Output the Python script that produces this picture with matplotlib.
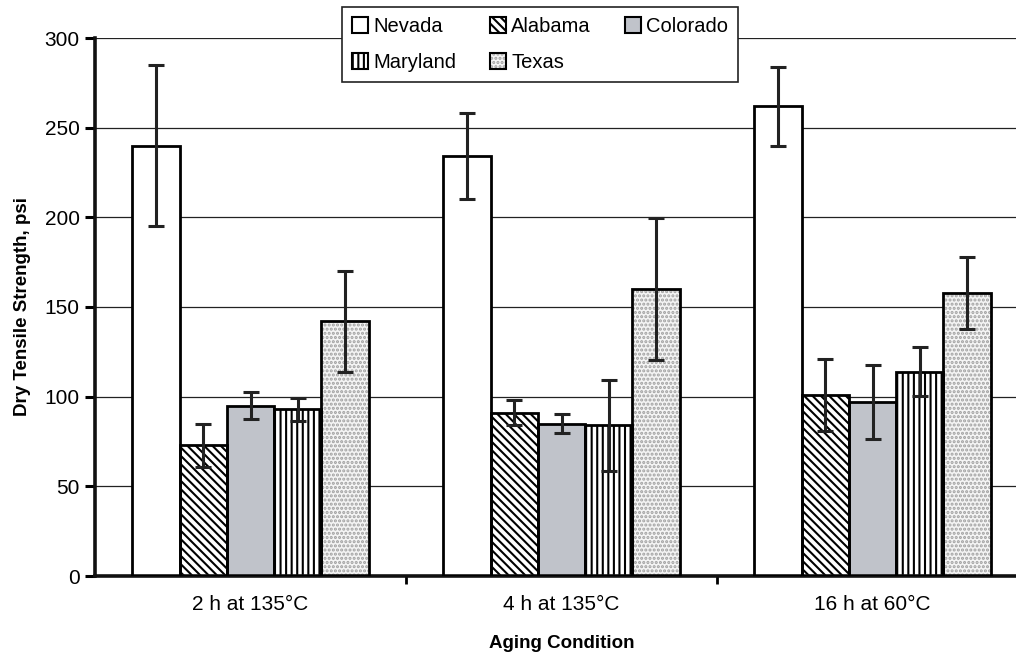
import numpy as np
import matplotlib
matplotlib.use("Agg")
from matplotlib import pyplot as plt
from matplotlib.patches import Patch
from matplotlib.legend_handler import HandlerTuple

plt.rcParams['font.family'] = ['Liberation Sans', 'DejaVu Sans']
plt.rcParams['hatch.linewidth'] = 1.5

conditions = ['2 h at 135°C', '4 h at 135°C', '16 h at 60°C']
states = ['Nevada', 'Alabama', 'Colorado', 'Maryland', 'Texas']

nevada = [240, 234, 262]
alabama = [73, 91, 101]
colorado = [95, 85, 97]
maryland = [93, 84, 114]
texas = [142, 160, 158]

nevada_err = [45, 24, 22]
alabama_err = [12, 7, 20]
colorado_err = [7.5, 5.5, 20.5]
maryland_err = [6.5, 25.5, 13.5]
texas_err = [28, 39.5, 20]

values = [nevada, alabama, colorado, maryland, texas]
errors = [nevada_err, alabama_err, colorado_err, maryland_err, texas_err]

# fill style per state: (face, hatch, hatch colour)
styles = [
    ('white', None, 'black'),
    ('white', '\\' * 4, 'black'),
    ('#c0c3ca', None, 'black'),
    ('white', '|||', 'black'),
    ('#f4f4f4', '....', '#a0a0a0'),
]

fig = plt.figure(figsize=(10.16, 6.57), dpi=100)
ax = fig.add_axes([95 / 1016, 1 - 576 / 657, 933 / 1016, 538 / 657])

x = np.arange(len(conditions))
w = 0.152
handles = []
for i, (vals, errs, (fc, hatch, hc)) in enumerate(zip(values, errors, styles)):
    pos = x + (i - 2) * w
    # fill + hatch layer
    ax.bar(pos, vals, w, color=fc, edgecolor=hc, linewidth=0, hatch=hatch, zorder=2)
    # outline layer
    ax.bar(pos, vals, w, fill=False, edgecolor='black', linewidth=2, zorder=3)
    ax.errorbar(pos, vals, yerr=errs, fmt='none', ecolor='#222222',
                elinewidth=2.2, capsize=6, capthick=2.2, zorder=4)
    p1 = Patch(facecolor=fc, edgecolor=hc, hatch=hatch, linewidth=0)
    p2 = Patch(fill=False, edgecolor='black', linewidth=1.5)
    handles.append((p1, p2))

ax.set_xlim(-0.5, 2.5)
ax.set_ylim(0, 300)
ax.set_yticks(np.arange(0, 301, 50))
ax.yaxis.grid(True, color='#222222', linewidth=0.9)
ax.set_axisbelow(True)

ax.set_xticks(x)
ax.set_xticklabels(conditions, fontsize=15)
ax.set_xticks([0.5, 1.5], minor=True)
ax.tick_params(axis='x', which='major', length=0, pad=14)
ax.tick_params(axis='x', which='minor', length=6, width=2, direction='out')
ax.tick_params(axis='y', length=7, width=2.2, labelsize=15, pad=4)

for s in ['top', 'right']:
    ax.spines[s].set_visible(False)
for s in ['left', 'bottom']:
    ax.spines[s].set_linewidth(2.6)
    ax.spines[s].set_color('#111111')

ax.set_ylabel('Dry Tensile Strength, psi', fontsize=13.5, fontweight='bold', labelpad=10)
ax.set_xlabel('Aging Condition', fontsize=13.5, fontweight='bold', labelpad=15)

order = [0, 3, 1, 4, 2]
leg = fig.legend([handles[k] for k in order], [states[k] for k in order],
                 loc='upper center', bbox_to_anchor=(540 / 1016, 1 - 7 / 657),
                 borderaxespad=0,
                 ncol=3, fontsize=14.5, frameon=True, fancybox=False,
                 edgecolor='#222222', framealpha=1, handlelength=0.8,
                 handleheight=0.8, handletextpad=0.25, columnspacing=1.7,
                 borderpad=0.5, labelspacing=0.85,
                 handler_map={tuple: HandlerTuple(ndivide=1, pad=0)})
leg.get_frame().set_linewidth(1.2)

plt.savefig('out.png', dpi=100)
